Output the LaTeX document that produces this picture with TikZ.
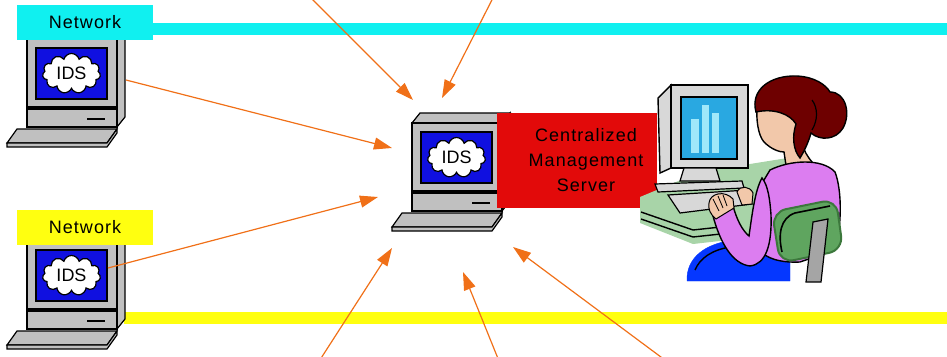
\documentclass[tikz,border=0pt]{standalone}
\usepackage{fontspec}
\setmainfont{Liberation Sans}
\newfontfamily\pixfont[LetterSpace=6]{Liberation Sans}
\usetikzlibrary{arrows.meta,shapes.symbols}

\definecolor{pcgray}{RGB}{192,192,192}
\definecolor{idsblue}{RGB}{16,16,224}
\definecolor{netcyan}{RGB}{16,240,240}
\definecolor{netyellow}{RGB}{255,255,16}
\definecolor{srvred}{RGB}{226,10,10}
\definecolor{feedorange}{RGB}{240,112,24}
\definecolor{deskgreen}{RGB}{168,212,168}
\definecolor{monigray}{RGB}{216,216,216}
\definecolor{scrblue}{RGB}{41,168,225}
\definecolor{barblue}{RGB}{160,232,250}
\definecolor{shirt}{RGB}{220,125,240}
\definecolor{skin}{RGB}{242,200,170}
\definecolor{hairred}{RGB}{110,0,0}
\definecolor{chairgreen}{RGB}{95,165,95}
\definecolor{chairdark}{RGB}{60,120,60}
\definecolor{pantsblue}{RGB}{5,55,255}
\definecolor{postgray}{RGB}{165,165,165}

\tikzset{
	pcbody/.style={fill=pcgray, draw=black, line width=1.2pt},
	clip art/.style={draw=black, line width=1.4pt},
	idscloud/.style={cloud, cloud puffs=11, cloud ignores aspect, fill=white, draw=black, line width=1.2pt,
		minimum width=58pt, minimum height=40pt, inner sep=0pt, font=\fontsize{18}{18}\selectfont},
	netlabel/.style={minimum width=136pt, minimum height=35pt, inner sep=0pt, font=\pixfont\fontsize{18}{20}\selectfont},
	netline/.style={line width=12pt},
	feed/.style={draw=feedorange, line width=1.2pt, -{Triangle[length=18pt,width=12pt]}},
	% IDS workstation, origin at the top left of the monitor face
	idspc/.pic={
		\filldraw[pcbody] (0,0) -- (8,-10) -- (98,-10) -- (90,0) -- cycle;
		\filldraw[pcbody] (90,0) -- (98,-10) -- (98,78) -- (90,88) -- cycle;
		\filldraw[pcbody] (0,0) rectangle (90,68);
		\filldraw[fill=idsblue, draw=black, line width=1.2pt] (9,9) rectangle (80,60);
		\node[idscloud] (-cloud) at (44.5,34.5) {IDS};
		\filldraw[pcbody] (0,70) rectangle (90,88);
		\draw[line width=1.6pt] (60,80) -- (78,80);
		\filldraw[pcbody] (-10,90) -- (90,90) -- (80,104) -- (-20,104) -- cycle;
		\filldraw[pcbody] (-20,104) -- (80,104) -- (90,90) -- (90,94) -- (80,108) -- (-20,108) -- cycle;
	}
}

\begin{document}
\begin{tikzpicture}[x=1pt,y=-1pt]
	\useasboundingbox (0,0) rectangle (947,356);

	% networks, the sensors sit under their labels
	\coordinate (netBstart) at (124,317.5);
	\coordinate (netBend) at (947,317.5);
	\draw[netline, netyellow] (netBstart) -- (netBend);
	\pic (pcA) at (27,39) {idspc};
	\pic (pcB) at (27,241) {idspc};
	\node[netlabel, fill=netcyan] (netA) at (85,22.5) {Network};
	\coordinate (netAend) at (947,29);
	\draw[netline, netcyan] (netA.east |- netAend) -- (netAend);
	\node[netlabel, fill=netyellow] (netB) at (85,227.5) {Network};

	% management console
	\pic (pcC) at (412,123) {idspc};
	\node[fill=srvred, minimum width=160pt, minimum height=95pt, inner sep=0pt, anchor=north west] (cms) at (497,113) {};
	\node[align=center, font=\pixfont\fontsize{18}{25}\selectfont] (cmsLabel) at (586,160.5) {Centralized\\Management\\Server};

	% operator desk
	\fill[deskgreen] (640,197) -- (700,172) -- (800,156) -- (800,232) -- (693,244) -- (640,223) -- cycle;
	\draw[line width=1.4pt] (641,212) -- (693,230) -- (730,226);
	\draw[line width=1.4pt] (641,219) -- (693,237) -- (730,233);
	\filldraw[fill=monigray, clip art] (658,98) -- (671,85) -- (671,168) -- (660,173) -- cycle;
	\filldraw[fill=monigray, clip art] (671,85) rectangle (748,168);
	\filldraw[fill=scrblue, draw=black, line width=1.6pt] (681,97) rectangle (737,159);
	\fill[barblue] (691,119) rectangle (699,153);
	\fill[barblue] (702,105) rectangle (709,153);
	\fill[barblue] (712,113) rectangle (719,153);
	\filldraw[fill=monigray, draw=black, line width=1.2pt] (684,168) -- (716,168) -- (720,181) -- (680,181) -- cycle;
	\filldraw[fill=monigray, draw=black, line width=1.2pt] (655,184) -- (742,181) -- (744,188) -- (658,192) -- cycle;
	\filldraw[fill=monigray, draw=black, line width=1.2pt] (668,195) -- (748,190) -- (752,204) -- (680,213) -- cycle;

	% operator
	\filldraw[fill=pantsblue, draw=pantsblue] (687,281) .. controls (686,258) and (705,243) .. (735,240) -- (790,244) -- (790,281) -- cycle;
	\draw[line width=1.4pt] (695,270) .. controls (700,258) and (712,250) .. (730,247);
	\filldraw[fill=skin, clip art] (757,104) .. controls (756,120) and (758,135) .. (764,142) .. controls (772,150) and (780,152) .. (784,152) -- (787,172) .. controls (795,170) and (805,166) .. (812,162) .. controls (802,150) and (800,140) .. (804,130) -- (792,100) -- cycle;
	\filldraw[fill=hairred, clip art] (756,112) .. controls (750,90) and (770,75) .. (797,76) .. controls (815,77) and (826,85) .. (830,92) .. controls (846,92) and (851,114) .. (843,128) .. controls (836,140) and (820,141) .. (811,133) .. controls (808,144) and (803,153) .. (800,158) .. controls (793,150) and (792,136) .. (796,124) .. controls (790,114) and (774,108) .. (756,112) -- cycle;
	\draw[line width=1.2pt] (812,100) .. controls (818,108) and (818,120) .. (812,130);
	\filldraw[fill=shirt, clip art] (770,170) .. controls (790,160) and (822,158) .. (835,172) .. controls (842,190) and (842,225) .. (835,250) -- (800,262) .. controls (780,263) and (765,258) .. (760,250) -- (758,190) -- cycle;
	\filldraw[fill=skin, draw=black, line width=1pt] (737,192) .. controls (740,185) and (750,186) .. (753,193) -- (752,204) -- (742,205) -- cycle;
	\filldraw[fill=shirt, clip art] (713,216) .. controls (720,242) and (732,264) .. (750,266) .. controls (766,264) and (772,245) .. (771,215) .. controls (770,200) and (768,185) .. (762,178) .. controls (755,190) and (752,215) .. (749,236) .. controls (742,230) and (737,220) .. (733,206) -- cycle;
	\filldraw[fill=skin, draw=black, line width=1pt] (709,203) .. controls (710,193) and (725,190) .. (733,199) -- (734,208) -- (716,219) .. controls (710,214) and (708,209) .. (709,203) -- cycle;
	\draw[line width=0.8pt] (713,199) -- (719,211) (718,196) -- (723,208) (723,195) -- (727,206);
	\filldraw[fill=chairgreen, draw=chairdark, line width=2pt, rounded corners=14pt] (772,212) -- (836,199) -- (843,250) -- (780,263) -- cycle;
	\draw[line width=1.6pt] (782,252) .. controls (778,235) and (780,218) .. (795,213) -- (830,206);
	\filldraw[fill=postgray, draw=black, line width=1.2pt] (813,222) -- (828,219) -- (821,282) -- (806,282) -- cycle;

	% event feeds towards the server
	\coordinate (srcN1) at (303,-10);   \coordinate (tipN1) at (413,100);
	\coordinate (srcN2) at (497,-10);   \coordinate (tipN2) at (442,98);
	\coordinate (srcA) at (126,80);     \coordinate (tipA) at (392,148);
	\coordinate (srcB) at (108,268);    \coordinate (tipB) at (378,197);
	\coordinate (srcS1) at (316,366);   \coordinate (tipS1) at (392,248);
	\coordinate (srcS2) at (501,366);   \coordinate (tipS2) at (463,272);
	\coordinate (srcS3) at (673,366);   \coordinate (tipS3) at (513,247);
	\begin{scope}
		\clip (0,0) rectangle (947,356);
		\draw[feed] (srcN1) -- (tipN1);
		\draw[feed] (srcN2) -- (tipN2);
		\draw[feed] (srcA) -- (tipA);
		\draw[feed] (srcB) -- (tipB);
		\draw[feed] (srcS1) -- (tipS1);
		\draw[feed] (srcS2) -- (tipS2);
		\draw[feed] (srcS3) -- (tipS3);
	\end{scope}
\end{tikzpicture}
\end{document}
